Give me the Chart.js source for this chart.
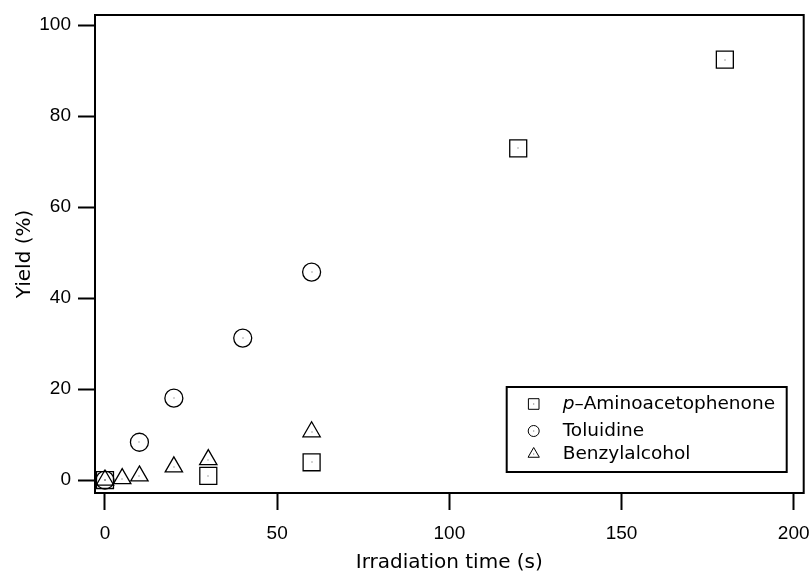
<!DOCTYPE html>
<html>
<head>
<meta charset="utf-8">
<script src="https://cdn.jsdelivr.net/npm/chart.js@4.4.1/dist/chart.umd.min.js"></script>
<style>
  html, body { margin: 0; padding: 0; background: #fff; overflow: hidden; }
  canvas { display: block; }
</style>
</head>
<body>
<!-- a few px wider than the window: chart.js keeps ~13px free on the right -->
<canvas id="yieldChart" width="817" height="573"></canvas>
<script>
// data
const aminoTime = [0, 30, 60, 120, 180];
const aminoYield = [0, 0.9, 3.9, 72.9, 92.4];
const toluTime = [0, 10, 20, 40, 60];
const toluYield = [0, 8.3, 18, 31.2, 45.7];
const benzTime = [0, 5, 10, 20, 30, 60];
const benzYield = [0, 0.3, 0.9, 2.9, 4.5, 10.6];

const xTicks = [0, 50, 100, 150, 200];
const yTicks = [0, 20, 40, 60, 80, 100];
const seriesNames = ['p–Aminoacetophenone', 'Toluidine', 'Benzylalcohol'];

function pairs(xs, ys) {
    return xs.map(function (x, i) { return { x: x, y: ys[i] }; });
}

const tickFont = { family: '"Liberation Sans", Arial, sans-serif', size: 19 };
const titleFont = { family: '"DejaVu Sans", sans-serif', size: 20, lineHeight: 1 };

// box around the plot area
const frame = {
    id: 'frame',
    afterDraw(chart) {
        const a = chart.chartArea, ctx = chart.ctx;
        ctx.save();
        ctx.lineWidth = 2;
        ctx.strokeStyle = '#000';
        ctx.strokeRect(a.left, a.top, a.right - a.left, a.bottom - a.top);
        ctx.restore();
    }
};

// x tick labels drawn here so the "200" label does not shrink the plot area
const xLabels = {
    id: 'xLabels',
    afterDraw(chart) {
        const ctx = chart.ctx, xs = chart.scales.x;
        ctx.save();
        ctx.fillStyle = '#000';
        ctx.font = tickFont.size + 'px ' + tickFont.family;
        ctx.textAlign = 'center';
        ctx.textBaseline = 'alphabetic';
        xTicks.forEach(function (v) {
            ctx.fillText(String(v), xs.getPixelForValue(v), chart.chartArea.bottom + 46);
        });
        ctx.restore();
    }
};

// tiny dot in the middle of every marker
const centerDots = {
    id: 'centerDots',
    afterDatasetsDraw(chart) {
        const ctx = chart.ctx;
        ctx.save();
        ctx.fillStyle = '#555';
        chart.data.datasets.forEach(function (ds, i) {
            chart.getDatasetMeta(i).data.forEach(function (pt) {
                ctx.fillRect(Math.round(pt.x) - 0.5, Math.round(pt.y) - 0.5, 1, 1);
            });
        });
        ctx.restore();
    }
};

// legend inside the plot, bottom right
const legendBox = {
    id: 'legendBox',
    afterDraw(chart) {
        const ctx = chart.ctx, a = chart.chartArea;
        const w = 280, h = 85;
        const x0 = a.right - 17 - w, y0 = a.bottom - 21 - h;
        ctx.save();
        ctx.fillStyle = '#fff';
        ctx.fillRect(x0, y0, w, h);
        ctx.lineWidth = 2;
        ctx.strokeStyle = '#000';
        ctx.strokeRect(x0, y0, w, h);

        const rowY = [17, 44, 67];
        const styles = [['rect', 7.5], ['circle', 5.5], ['triangle', 6.5]];
        ctx.textBaseline = 'middle';
        rowY.forEach(function (dy, i) {
            const y = y0 + dy;
            ctx.lineWidth = 1;
            ctx.strokeStyle = '#000';
            ctx.fillStyle = 'rgba(0,0,0,0)';
            Chart.helpers.drawPoint(ctx, { pointStyle: styles[i][0], radius: styles[i][1], rotation: 0, borderWidth: 1 }, x0 + 27, y);
            ctx.fillStyle = '#555';
            ctx.fillRect(x0 + 26.5, y - 0.5, 1, 1);

            ctx.fillStyle = '#000';
            let tx = x0 + 56;
            let label = seriesNames[i];
            if (i === 0) {
                ctx.font = 'italic 18.5px "DejaVu Sans", sans-serif';
                ctx.fillText('p', tx, y);
                tx += ctx.measureText('p').width;
                label = label.slice(1);
            }
            ctx.font = '18.5px "DejaVu Sans", sans-serif';
            ctx.fillText(label, tx, y);
        });
        ctx.restore();
    }
};

const markerBase = {
    showLine: false,
    borderColor: '#000',
    backgroundColor: 'rgba(0,0,0,0)',
    pointBorderWidth: 1.3,
    pointHoverBorderWidth: 1.3
};

new Chart(document.getElementById('yieldChart').getContext('2d'), {
    type: 'scatter',
    data: {
        datasets: [
            Object.assign({ label: seriesNames[0], data: pairs(aminoTime, aminoYield), pointStyle: 'rect', pointRadius: 12, pointHoverRadius: 12 }, markerBase),
            Object.assign({ label: seriesNames[1], data: pairs(toluTime, toluYield), pointStyle: 'circle', pointRadius: 9, pointHoverRadius: 9 }, markerBase),
            Object.assign({ label: seriesNames[2], data: pairs(benzTime, benzYield), pointStyle: 'triangle', pointRadius: 10, pointHoverRadius: 10 }, markerBase)
        ]
    },
    options: {
        responsive: false,
        animation: false,
        layout: { padding: { top: 15, right: 8, left: 0, bottom: 0 } },
        plugins: {
            legend: { display: false },
            tooltip: { enabled: false }
        },
        scales: {
            x: {
                type: 'linear',
                min: -2.9,
                max: 202.9,
                afterBuildTicks: function (scale) {
                    scale.ticks = xTicks.map(function (v) { return { value: v }; });
                },
                afterFit: function (scale) { scale.height = 80; },
                grid: { drawOnChartArea: false, tickLength: 17, tickWidth: 2, tickColor: '#000' },
                border: { display: true, color: '#000', width: 2 },
                ticks: { display: false },
                title: { display: true, text: 'Irradiation time (s)', color: '#000', font: titleFont, padding: { top: 0, bottom: 0 } }
            },
            y: {
                type: 'linear',
                min: -2.85,
                max: 102.2,
                afterBuildTicks: function (scale) {
                    scale.ticks = yTicks.map(function (v) { return { value: v }; });
                },
                afterFit: function (scale) {
                    scale.width = 95;
                    scale.paddingTop = 0;
                    scale.paddingBottom = 0;
                },
                grid: { drawOnChartArea: false, tickLength: 17, tickWidth: 2, tickColor: '#000' },
                border: { display: true, color: '#000', width: 2 },
                ticks: { color: '#000', font: tickFont, padding: 7 },
                title: { display: true, text: 'Yield (%)', color: '#000', font: titleFont, padding: { top: 15, bottom: 0 } }
            }
        }
    },
    plugins: [frame, xLabels, centerDots, legendBox]
});
</script>
</body>
</html>
